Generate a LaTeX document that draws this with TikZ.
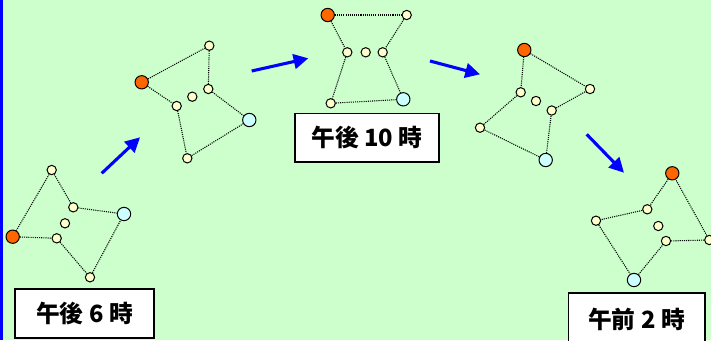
\documentclass[tikz,border=0pt]{standalone}
\usepackage{fontspec}
\newfontfamily\jpfont{Noto Sans CJK JP}
\usetikzlibrary{arrows.meta}
\definecolor{bgreen}{RGB}{204,255,204}
\definecolor{cream}{RGB}{255,255,204}
\definecolor{pale}{RGB}{204,255,255}
\definecolor{orng}{RGB}{255,102,0}
\tikzset{
  dot/.style={circle,draw=black,fill=cream,minimum size=7pt,inner sep=0pt,line width=0.75pt},
  startdot/.style={dot,fill=orng,minimum size=10pt},
  enddot/.style={dot,fill=pale,minimum size=10pt},
  link/.style={line width=0.8pt,dash pattern=on 0.8pt off 0.8pt},
  lab/.style={draw=black,fill=white,line width=1.1pt,inner sep=0pt,
    font=\jpfont\bfseries\fontsize{17.8}{17.8}\selectfont},
  move/.style={blue,line width=2.3pt,-{Triangle[length=11pt,width=11pt]}}
}
\begin{document}
\begin{tikzpicture}[x=0.75pt,y=-0.75pt]
\useasboundingbox (0,0) rectangle (711,340);
\clip (0,0) rectangle (711,340);
\fill[bgreen] (0,0) rectangle (711,340);
\fill[blue] (0,0) rectangle (3,340);

% group 1 (6 pm)
\node[dot] (a1) at (51.7,170) {};
\node[dot] (a2) at (73.3,207.3) {};
\node[enddot] (a3) at (124,214) {};
\node[dot] (a4) at (65,223.3) {};
\node[startdot] (a5) at (12.7,236.7) {};
\node[dot] (a6) at (56.7,238.3) {};
\node[dot] (a7) at (90,277.3) {};
\draw[link] (a1) -- (a5);
\draw[link] (a1) -- (a2);
\draw[link] (a2) -- (a3);
\draw[link] (a5) -- (a6);
\draw[link] (a6) -- (a7);
\draw[link] (a7) -- (a3);
\node[lab,minimum width=104pt,minimum height=36.5pt] (l1) at (84.5,313.5) {午後 6 時};

% group 2
\node[dot] (b1) at (209.3,45.7) {};
\node[startdot] (b2) at (141.7,82.3) {};
\node[dot] (b3) at (208.3,89) {};
\node[dot] (b4) at (192.3,96.7) {};
\node[dot] (b5) at (176.7,106) {};
\node[enddot] (b6) at (249.3,120) {};
\node[dot] (b7) at (187.3,158.3) {};
\draw[link] (b2) -- (b1);
\draw[link] (b1) -- (b3);
\draw[link] (b3) -- (b6);
\draw[link] (b2) -- (b5);
\draw[link] (b5) -- (b7);
\draw[link] (b7) -- (b6);

% group 3 (10 pm)
\node[startdot] (c1) at (327.7,15) {};
\node[dot] (c2) at (406.7,15) {};
\node[dot] (c3) at (347.3,52.3) {};
\node[dot] (c4) at (365.7,52.3) {};
\node[dot] (c5) at (382.7,52.3) {};
\node[dot] (c6) at (330.7,103.3) {};
\node[enddot] (c7) at (403.3,99.3) {};
\draw[link] (c1) -- (c2);
\draw[link] (c1) -- (c3);
\draw[link] (c2) -- (c5);
\draw[link] (c3) -- (c6);
\draw[link] (c5) -- (c7);
\draw[link] (c6) -- (c7);
\node[lab,minimum width=108pt,minimum height=36.4pt] (l3) at (367,137.5) {午後 10 時};

% group 4
\node[startdot] (d1) at (524.3,50) {};
\node[dot] (d2) at (520.7,92.3) {};
\node[dot] (d3) at (536,101) {};
\node[dot] (d4) at (551.7,110.5) {};
\node[dot] (d5) at (480,127.7) {};
\node[enddot] (d6) at (545.7,160) {};
\node[dot] (d7) at (590,89) {};
\draw[link] (d1) -- (d7);
\draw[link] (d1) -- (d2);
\draw[link] (d2) -- (d5);
\draw[link] (d5) -- (d6);
\draw[link] (d6) -- (d4);
\draw[link] (d4) -- (d7);

% group 5 (2 am)
\node[startdot] (e1) at (672.3,173.3) {};
\node[dot] (e2) at (647.3,209.3) {};
\node[dot] (e3) at (596,220.7) {};
\node[dot] (e4) at (658.3,226) {};
\node[dot] (e5) at (666,241) {};
\node[dot] (e6) at (709.3,240) {};
\node[enddot] (e7) at (634,280) {};
\draw[link] (e1) -- (e2);
\draw[link] (e2) -- (e3);
\draw[link] (e3) -- (e7);
\draw[link] (e7) -- (e5);
\draw[link] (e5) -- (e6);
\draw[link] (e6) -- (e1);
\node[lab,minimum width=102.4pt,minimum height=39pt] (l5) at (636.5,319) {午前 2 時};

% arrows
\coordinate (p1) at (101.7,173.3);
\coordinate (q1) at (140,137.3);
\coordinate (p2) at (251.7,71);
\coordinate (q2) at (308.3,58.3);
\coordinate (p3) at (430,61);
\coordinate (q3) at (480,74.3);
\coordinate (p4) at (586.7,134.3);
\coordinate (q4) at (624,172.7);
\draw[move] (p1) -- (q1);
\draw[move] (p2) -- (q2);
\draw[move] (p3) -- (q3);
\draw[move] (p4) -- (q4);
\end{tikzpicture}
\end{document}
